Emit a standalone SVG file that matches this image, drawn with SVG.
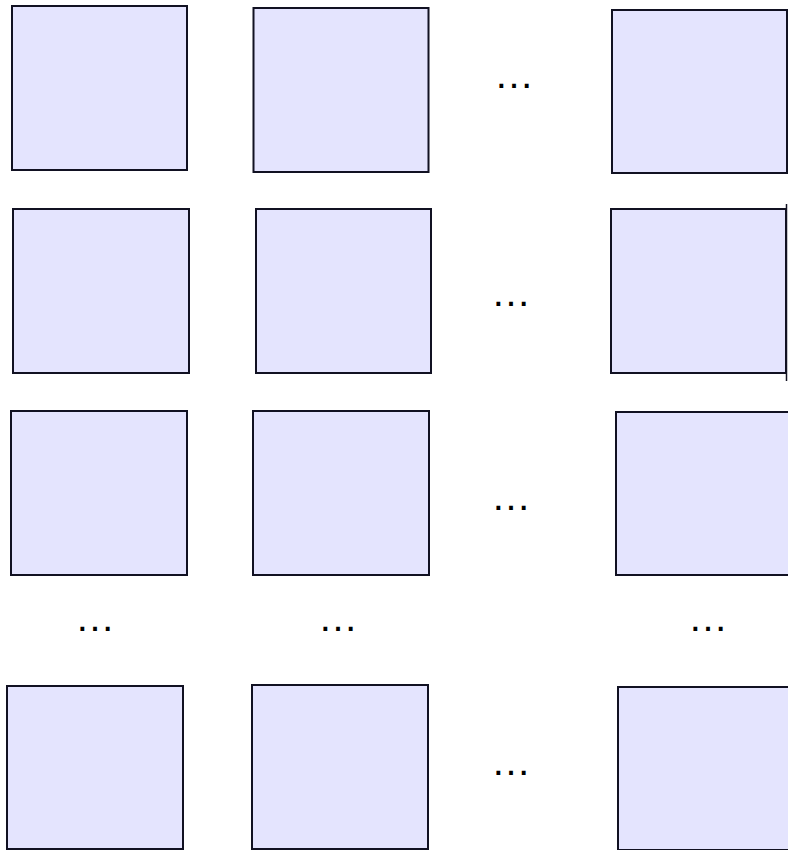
<svg xmlns="http://www.w3.org/2000/svg" width="788" height="850" viewBox="0 0 788 850">
<style>
.b{fill:#e4e4fe;stroke:#111122;stroke-width:2}
.e{font-family:"Liberation Sans",Arial,sans-serif;font-size:40px;fill:#000;text-anchor:middle}
</style>
<rect width="788" height="850" fill="#fff"/>
<g id="n11"><rect class="b" x="12" y="6" width="175" height="164"/></g>
<g id="n12"><rect class="b" x="253.5" y="8" width="175" height="164"/></g>
<g id="d1"><text class="e" x="514" y="88">…</text></g>
<g id="n13"><rect class="b" x="612" y="10" width="175" height="163"/></g>

<g id="n21"><rect class="b" x="13" y="209" width="176" height="164"/></g>
<g id="n22"><rect class="b" x="256" y="209" width="175" height="164"/></g>
<g id="d2"><text class="e" x="511" y="306">…</text></g>
<g id="n23"><rect class="b" x="611" y="209" width="175" height="164"/></g>

<g id="n31"><rect class="b" x="11" y="411" width="176" height="164"/></g>
<g id="n32"><rect class="b" x="253" y="411" width="176" height="164"/></g>
<g id="d3"><text class="e" x="511" y="510">…</text></g>
<g id="n33"><rect class="b" x="616" y="412" width="180" height="163"/></g>

<g id="d41"><text class="e" x="95" y="631">…</text></g>
<g id="d42"><text class="e" x="338" y="631">…</text></g>
<g id="d43"><text class="e" x="708" y="631">…</text></g>

<g id="n51"><rect class="b" x="7" y="686" width="176" height="163"/></g>
<g id="n52"><rect class="b" x="252" y="685" width="176" height="164"/></g>
<g id="d5"><text class="e" x="511" y="775">…</text></g>
<g id="n53"><rect class="b" x="618" y="687" width="180" height="163"/></g>

<g id="connectors">
<path d="M786.5 204 V381" fill="none" stroke="#111122" stroke-width="1.5"/>
</g>
</svg>
